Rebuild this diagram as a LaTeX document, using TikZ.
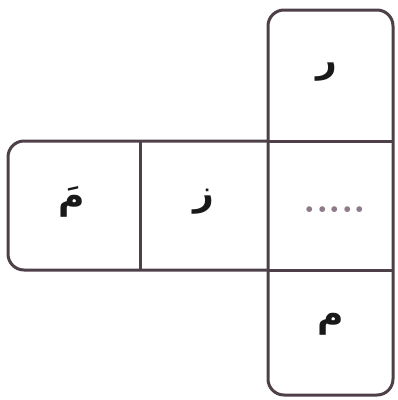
\documentclass[tikz,border=0pt]{standalone}
\usepackage{fontspec}
\newfontfamily\arabicfont[Script=Arabic]{DejaVu Sans}
\TeXXeTstate=1
\definecolor{edge}{HTML}{4E4048}
\definecolor{dotc}{HTML}{8E7A88}
\begin{document}
\begin{tikzpicture}[x=1pt,y=-1pt,
  edgeline/.style={draw=edge,line width=3pt,rounded corners=16pt},
  plainline/.style={draw=edge,line width=3pt},
  letter/.style={font=\arabicfont\bfseries\fontsize{36}{40}\selectfont,text=black!90}]
\useasboundingbox (0,0) rectangle (398,400);
% vertical column
\draw[edgeline] (268,10) rectangle (393,395);
% left arm
\draw[edgeline] (268,141) -- (8,141) -- (8,270) -- (268,270);
\draw[plainline] (268,141) -- (393,141);
\draw[plainline] (268,270) -- (393,270);
\draw[plainline] (140,141) -- (140,270);
% letters
\node[letter] (top) at (327,72) {\beginR ر\endR};
\node[letter] (bot) at (331,324) {\beginR م\endR};
\node[letter] (mid) at (204,202) {\beginR ز\endR};
\node[letter] (left) at (72,202) {\beginR مَ\endR};
\node[text=dotc,anchor=base,font=\bfseries\fontsize{40}{44}\selectfont] (dots) at (335,212) {.....};
\end{tikzpicture}
\end{document}
